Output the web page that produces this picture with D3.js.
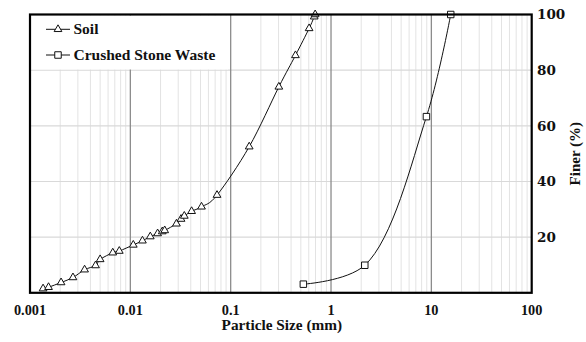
<!DOCTYPE html>
<html>
<head>
<meta charset="utf-8">
<script src="https://cdn.jsdelivr.net/npm/d3@7/dist/d3.min.js"></script>
<style>
  html, body { margin: 0; padding: 0; background: #fff; }
  svg { display: block; }
</style>
</head>
<body>
<svg id="chart" width="586" height="342"></svg>
<script>
// Particle size distribution: sieve + hydrometer data
const soilSize   = [0.00135, 0.00153, 0.00204, 0.00268, 0.00350, 0.00450, 0.00500, 0.00668, 0.00776,
                    0.0107, 0.0132, 0.0158, 0.0187, 0.0208, 0.0220, 0.0288, 0.0320, 0.0345, 0.0408,
                    0.0512, 0.0731, 0.153, 0.302, 0.442, 0.605, 0.680, 0.695];
const soilFiner  = [1.5, 2.0, 3.7, 5.5, 8.3, 9.8, 12.0, 14.4, 15.0,
                    17.2, 18.7, 20.2, 21.3, 22.0, 22.4, 24.8, 26.5, 27.6, 29.3,
                    30.9, 35.1, 52.5, 74.0, 85.3, 95.0, 99.2, 100];
const stoneSize  = [0.53, 2.17, 8.93, 15.6];
const stoneFiner = [3.1, 9.9, 63.3, 100];

const xTickValues = [0.001, 0.01, 0.1, 1, 10, 100];
const xTickLabels = ["0.001", "0.01", "0.1", "1", "10", "100"];
const yTickValues = [20, 40, 60, 80, 100];
const seriesNames = ["Soil", "Crushed Stone Waste"];

const svg = d3.select("#chart");
const plotL = 30, plotR = 531.7, plotT = 14.5, plotB = 292.8;

const x = d3.scaleLog().domain([0.001, 100]).range([plotL, plotR]);
const y = d3.scaleLinear().domain([0, 100]).range([plotB, plotT]);

const serif = "'Liberation Serif', 'Times New Roman', serif";

// grid: minor vertical lines (2..9 in each decade)
const isMajor = v => Math.abs(Math.log10(v) - Math.round(Math.log10(v))) < 1e-9;
const allTicks = x.ticks();
svg.append("g").selectAll("line")
  .data(allTicks.filter(v => !isMajor(v)))
  .join("line")
  .attr("x1", d => x(d)).attr("x2", d => x(d))
  .attr("y1", plotT).attr("y2", plotB)
  .attr("stroke", "#e3e3e3").attr("stroke-width", 1);

// horizontal grid lines
svg.append("g").selectAll("line")
  .data(yTickValues.filter(v => v < 100))
  .join("line")
  .attr("x1", plotL).attr("x2", plotR)
  .attr("y1", d => y(d)).attr("y2", d => y(d))
  .attr("stroke", "#d9d9d9").attr("stroke-width", 1.2);

// major vertical lines at each decade
svg.append("g").selectAll("line")
  .data(xTickValues.slice(1, -1))
  .join("line")
  .attr("x1", d => x(d)).attr("x2", d => x(d))
  .attr("y1", plotT).attr("y2", plotB)
  .attr("stroke", "#8c8c8c").attr("stroke-width", 1.3);

// legend background
svg.append("rect")
  .attr("x", plotL + 1).attr("y", plotT + 1)
  .attr("width", 197).attr("height", 54)
  .attr("fill", "#fff");

// curves
const soilLine = d3.line()
  .x(d => x(d[0])).y(d => y(d[1]))
  .curve(d3.curveCardinal.tension(0));
const stoneLine = d3.line()
  .x(d => x(d[0])).y(d => y(d[1]))
  .curve(d3.curveCatmullRom.alpha(0.5));

const soil = d3.zip(soilSize, soilFiner);
const stone = d3.zip(stoneSize, stoneFiner);

svg.append("path").datum(soil)
  .attr("d", soilLine).attr("fill", "none")
  .attr("stroke", "#111").attr("stroke-width", 1);
svg.append("path").datum(stone)
  .attr("d", stoneLine).attr("fill", "none")
  .attr("stroke", "#111").attr("stroke-width", 1);

const tri = d3.symbol().type(d3.symbolTriangle).size(26);
const sq = d3.symbol().type(d3.symbolSquare).size(42);

svg.append("g").selectAll("path")
  .data(soil).join("path")
  .attr("d", tri)
  .attr("transform", d => `translate(${x(d[0])},${y(d[1])})`)
  .attr("fill", "#fff").attr("stroke", "#111").attr("stroke-width", 1);

svg.append("g").selectAll("path")
  .data(stone).join("path")
  .attr("d", sq)
  .attr("transform", d => `translate(${x(d[0])},${y(d[1])})`)
  .attr("fill", "#fff").attr("stroke", "#111").attr("stroke-width", 1);

// plot frame
svg.append("rect")
  .attr("x", plotL).attr("y", plotT)
  .attr("width", plotR - plotL).attr("height", plotB - plotT)
  .attr("fill", "none").attr("stroke", "#000").attr("stroke-width", 2.2);

// legend entries
const legendY = [29.3, 55];
const legendSymbols = [tri, sq];
seriesNames.forEach((name, i) => {
  const g = svg.append("g");
  g.append("line")
    .attr("x1", 46).attr("x2", 70)
    .attr("y1", legendY[i]).attr("y2", legendY[i])
    .attr("stroke", "#111").attr("stroke-width", 1);
  g.append("path")
    .attr("d", legendSymbols[i])
    .attr("transform", `translate(58,${legendY[i]})`)
    .attr("fill", "#fff").attr("stroke", "#111").attr("stroke-width", 1);
  g.append("text")
    .attr("x", 73.5).attr("y", legendY[i] + 5)
    .attr("font-family", serif).attr("font-weight", "bold")
    .attr("font-size", 15.5).attr("fill", "#111")
    .text(name);
});

// x tick labels
svg.append("g").selectAll("text")
  .data(xTickValues)
  .join("text")
  .attr("x", d => x(d)).attr("y", 314.5)
  .attr("text-anchor", "middle")
  .attr("font-family", serif).attr("font-weight", "bold")
  .attr("font-size", 14.3).attr("fill", "#111")
  .text((d, i) => xTickLabels[i]);

// y tick labels (right side)
svg.append("g").selectAll("text")
  .data(yTickValues)
  .join("text")
  .attr("x", 537).attr("y", d => y(d))
  .attr("dy", "0.36em")
  .attr("font-family", "'DejaVu Serif', serif").attr("font-weight", "bold")
  .attr("font-size", 13.5).attr("fill", "#111")
  .text(d => d);

// axis titles
svg.append("text")
  .attr("x", (plotL + plotR) / 2 + 1).attr("y", 330)
  .attr("text-anchor", "middle")
  .attr("font-family", serif).attr("font-weight", "bold")
  .attr("font-size", 15.3).attr("fill", "#111")
  .text("Particle Size (mm)");

svg.append("text")
  .attr("transform", `translate(580,${(plotT + plotB) / 2}) rotate(-90)`)
  .attr("text-anchor", "middle")
  .attr("font-family", serif).attr("font-weight", "bold")
  .attr("font-size", 15).attr("fill", "#111")
  .text("Finer (%)");
</script>
</body>
</html>
